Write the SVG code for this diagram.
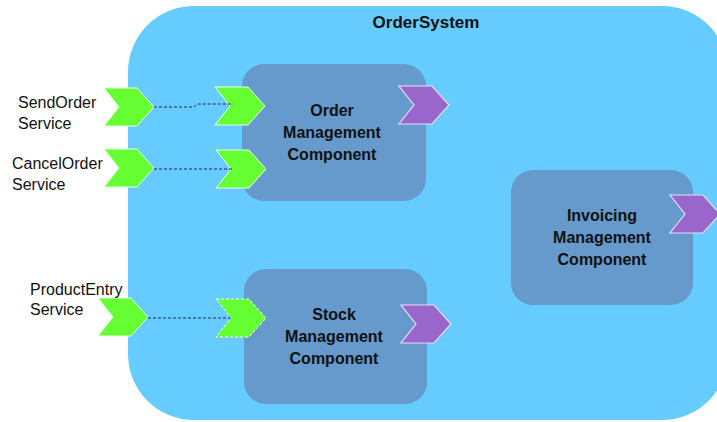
<svg xmlns="http://www.w3.org/2000/svg" width="717" height="422" viewBox="0 0 717 422">
  <defs>
    <style>
      .system { fill: #66CCFF; }
      .comp { fill: #6699CC; }
      .title { font-family: "Liberation Sans", Arial, sans-serif; font-weight: bold; font-size: 17px; fill: #111; text-anchor: middle; }
      .ctext { font-family: "Liberation Sans", Arial, sans-serif; font-weight: bold; font-size: 16px; fill: #111; text-anchor: middle; }
      .label { font-family: "Liberation Sans", Arial, sans-serif; font-size: 16px; fill: #111; }
      .provided { fill: #66FF33; stroke: #E8FFE0; stroke-width: 1; }
      .provided-dashed { fill: #66FF33; stroke: #FFFFFF; stroke-width: 1; stroke-dasharray: 3 2; }
      .required { fill: #9966CC; stroke: #E6DDF5; stroke-width: 1.2; }
      .link { fill: none; stroke: #1F2A55; stroke-width: 1; stroke-dasharray: 3 2; }
    </style>
    <!-- chevron port shape, origin at top-left -->
    <polygon id="chev" points="0,0 33,0 50,19 33,38 0,38 15,19"/>
  </defs>

  <!-- system boundary -->
  <g id="OrderSystem">
    <rect class="system" x="128" y="6" width="600" height="414" rx="66" ry="66"/>
    <text class="title" x="426" y="28">OrderSystem</text>
  </g>

  <!-- components -->
  <g id="OrderManagement">
    <rect class="comp" x="242" y="64" width="184" height="137" rx="22" ry="22"/>
    <text class="ctext" x="332" y="116">Order</text>
    <text class="ctext" x="332" y="138">Management</text>
    <text class="ctext" x="332" y="160">Component</text>
    <use href="#chev" class="provided" x="215" y="87"/>
    <use href="#chev" class="provided" x="216" y="150"/>
    <use href="#chev" class="required" x="399" y="86"/>
  </g>

  <g id="StockManagement">
    <rect class="comp" x="244" y="269" width="183" height="135" rx="22" ry="22"/>
    <text class="ctext" x="334" y="320">Stock</text>
    <text class="ctext" x="334" y="342">Management</text>
    <text class="ctext" x="334" y="364">Component</text>
    <use href="#chev" class="provided-dashed" x="216" y="299"/>
    <use href="#chev" class="required" x="401" y="305"/>
  </g>

  <g id="InvoicingManagement">
    <rect class="comp" x="511" y="170" width="182" height="135" rx="22" ry="22"/>
    <text class="ctext" x="602" y="221">Invoicing</text>
    <text class="ctext" x="602" y="243">Management</text>
    <text class="ctext" x="602" y="265">Component</text>
    <use href="#chev" class="required" x="670" y="195"/>
  </g>

  <!-- external service ports -->
  <g id="SendOrderService">
    <use href="#chev" class="provided" x="104" y="88"/>
    <text class="label" x="18" y="108">SendOrder</text>
    <text class="label" x="18" y="129">Service</text>
  </g>
  <g id="CancelOrderService">
    <use href="#chev" class="provided" x="104" y="149"/>
    <text class="label" x="12" y="169">CancelOrder</text>
    <text class="label" x="12" y="190">Service</text>
  </g>
  <g id="ProductEntryService">
    <use href="#chev" class="provided" x="98" y="298"/>
    <text class="label" x="30" y="295">ProductEntry</text>
    <text class="label" x="30" y="315">Service</text>
  </g>

  <!-- delegation connectors -->
  <g id="connectors">
    <polyline class="link" points="154,107 194,107 197,104 233,104"/>
    <line class="link" x1="154" y1="169" x2="233" y2="169"/>
    <line class="link" x1="148" y1="318" x2="233" y2="318"/>
  </g>
</svg>
